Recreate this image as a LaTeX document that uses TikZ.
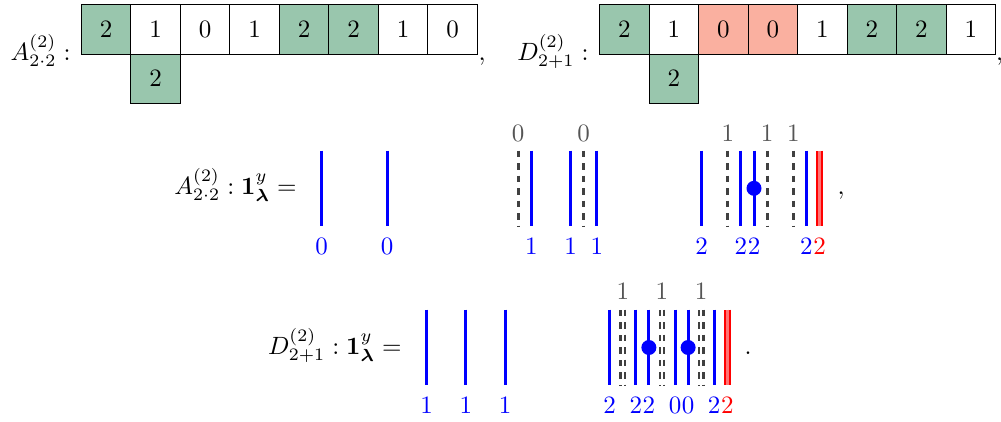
\documentclass[tikz,border=0pt]{standalone}
\usepackage{amsmath}
\definecolor{tgreen}{RGB}{153,198,173}
\definecolor{tsalmon}{RGB}{250,176,160}
\definecolor{dgray}{RGB}{64,64,64}
\definecolor{lgray}{RGB}{85,85,85}
\begin{document}
\begin{tikzpicture}[x=0.4pt,y=-0.4pt,
  cell/.style={draw, line width=0.5pt, minimum size=19.8pt, inner sep=0pt, anchor=north west},
  gcell/.style={cell, fill=tgreen},
  rcell/.style={cell, fill=tsalmon},
  bstrand/.style={blue, line width=1.2pt},
  rstrand/.style={draw=red, line width=0.9pt, double=red!55, double distance=1pt},
  dstrand/.style={draw=dgray, line width=1.2pt, dash pattern=on 2.6pt off 2.4pt},
  ddstrand/.style={draw=dgray, line width=0.9pt, double=white, double distance=0.9pt, dash pattern=on 2.6pt off 2.4pt},
  dotmark/.style={circle, fill=blue, inner sep=0pt, minimum size=6pt},
  blab/.style={text=blue, inner sep=0pt, anchor=base},
  rlab/.style={text=red, inner sep=0pt, anchor=base},
  glab/.style={text=lgray, inner sep=0pt, anchor=base},
  mlab/.style={inner sep=0pt, anchor=base east},
  punct/.style={inner sep=0pt, anchor=base west}
]
\useasboundingbox (0,0) rectangle (1001,421);

% ---------- top left tableau ----------
\node[mlab] (labA) at (71,60) {$A^{(2)}_{2\cdot 2}:$};
\foreach \i/\v/\s in {0/2/gcell,1/1/cell,2/0/cell,3/1/cell,4/2/gcell,5/2/gcell,6/1/cell,7/0/cell}
  \node[\s] (a\i) at ({80.7+49.5*\i},4) {$\v$};
\node[gcell] (a8) at (130.2,53.5) {$2$};
\node[punct] (commaA) at (478,60) {$,$};

% ---------- top right tableau ----------
\node[mlab] (labD) at (589,60) {$D^{(2)}_{2+1}:$};
\foreach \i/\v/\s in {0/2/gcell,1/1/cell,2/0/rcell,3/0/rcell,4/1/cell,5/2/gcell,6/2/gcell,7/1/cell}
  \node[\s] (d\i) at ({599+49.5*\i},4) {$\v$};
\node[gcell] (d8) at (648.5,53.5) {$2$};
\node[punct] (commaD) at (995.5,60) {$,$};

% ---------- middle row ----------
\node[mlab] (labM) at (297,194) {$A^{(2)}_{2\cdot 2}:\mathbf{1}^y_{\boldsymbol{\lambda}} =$};
\foreach \k/\v in {0/0,5/0,16/1,19/1,21/1,29/2,32/2,33/2,37/2}{
  \draw[bstrand] ({321.7+13.1*\k},150.7) -- ({321.7+13.1*\k},226);
  \node[blab] at ({321.7+13.1*\k},254) {$\v$};
}
\foreach \k/\v in {15/0,20/0,31/1,34/1,36/1}{
  \draw[dstrand] ({321.7+13.1*\k},150.7) -- ({321.7+13.1*\k},226);
  \node[glab] at ({321.7+13.1*\k},141.7) {$\v$};
}
\draw[rstrand] ({321.7+13.1*38},150.7) -- ({321.7+13.1*38},226);
\node[rlab] at ({321.7+13.1*38},254) {$2$};
\node[dotmark] (m1) at ({321.7+13.1*33},188.3) {};
\node[punct] (commaM) at (837,194) {$,$};

% ---------- bottom row ----------
\node[mlab] (labB) at (402,354) {$D^{(2)}_{2+1}:\mathbf{1}^y_{\boldsymbol{\lambda}} =$};
\foreach \k/\v in {0/1,3/1,6/1,14/2,16/2,17/2,19/0,20/0,22/2}{
  \draw[bstrand] ({426.7+13.07*\k},309.5) -- ({426.7+13.07*\k},385);
  \node[blab] at ({426.7+13.07*\k},413) {$\v$};
}
\foreach \k in {15,18,21}{
  \draw[ddstrand] ({426.7+13.07*\k},309.5) -- ({426.7+13.07*\k},385);
  \node[glab] at ({426.7+13.07*\k},299.3) {$1$};
}
\draw[rstrand] ({426.7+13.07*23},309.5) -- ({426.7+13.07*23},385);
\node[rlab] at ({426.7+13.07*23},413) {$2$};
\node[dotmark] (b1) at ({426.7+13.07*17},347.5) {};
\node[dotmark] (b2) at ({426.7+13.07*20},347.5) {};
\node[punct] (periodB) at (744,354) {$.$};
\end{tikzpicture}
\end{document}
